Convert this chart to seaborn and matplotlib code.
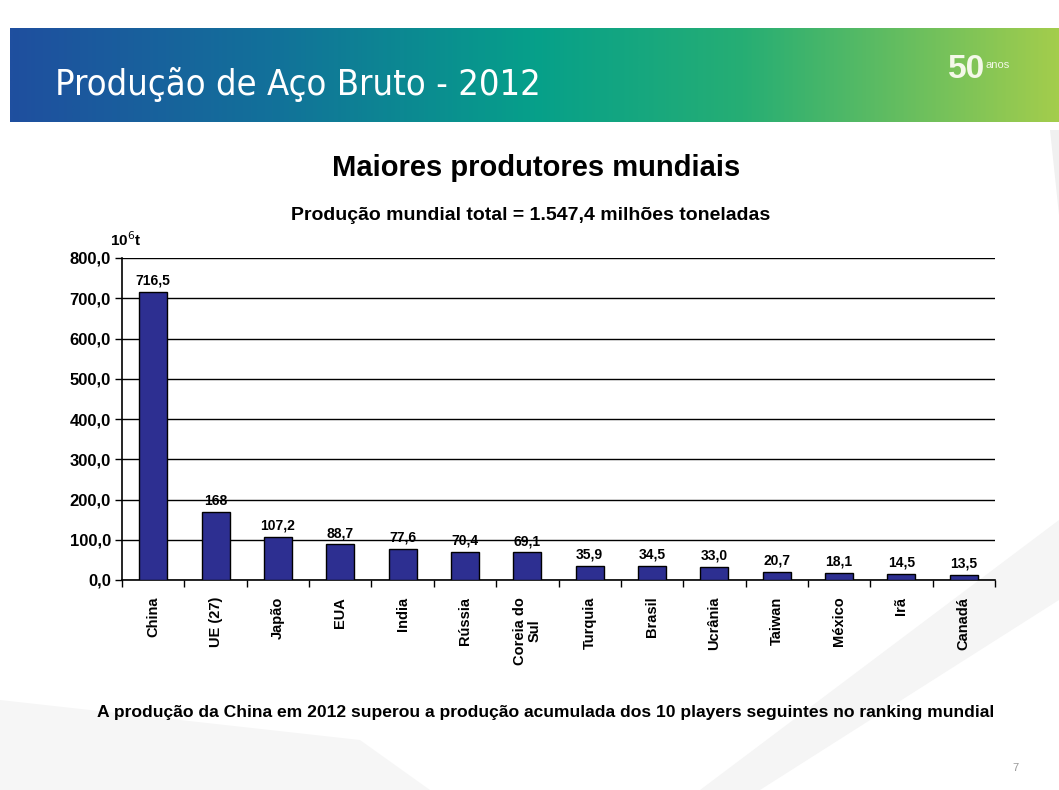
import numpy as np
import matplotlib
matplotlib.use("Agg")
import matplotlib.pyplot as plt
import seaborn as sns
from matplotlib.colors import LinearSegmentedColormap
from matplotlib.ticker import FixedLocator, FuncFormatter

countries = ["China", "UE (27)", "Japão", "EUA", "India", "Rússia", "Coreia do\nSul",
             "Turquia", "Brasil", "Ucrânia", "Taiwan", "México", "Irã", "Canadá"]
values = [716.5, 168, 107.2, 88.7, 77.6, 70.4, 69.1, 35.9, 34.5, 33.0, 20.7, 18.1, 14.5, 13.5]
value_labels = ["716,5", "168", "107,2", "88,7", "77,6", "70,4", "69,1",
                "35,9", "34,5", "33,0", "20,7", "18,1", "14,5", "13,5"]
yticks = [0, 100, 200, 300, 400, 500, 600, 700, 800]

sns.set_theme(style="white")
plt.rcParams['font.family'] = ['Liberation Sans', 'DejaVu Sans']
plt.rcParams['text.color'] = 'black'
plt.rcParams['xtick.color'] = 'black'
plt.rcParams['ytick.color'] = 'black'

W, H = 1059, 790
fig = plt.figure(figsize=(W / 100, H / 100), dpi=100)
fig.patch.set_facecolor("white")

# background swooshes
bg = fig.add_axes([0, 0, 1, 1], zorder=-10)
bg.set_xlim(0, W); bg.set_ylim(H, 0); bg.axis("off")
bg.fill([700, 1059, 1059, 760], [790, 520, 600, 790], color="#f5f5f5", lw=0)
bg.fill([1050, 1059, 1059, 1120], [130, 130, 790, 790], color="#f0f0f0", lw=0)
bg.fill([0, 0, 430, 360], [700, 790, 790, 740], color="#f6f6f6", lw=0)
bg.fill([1100, 1059, 1059], [0, 0, 130], color="#f0f0f0", lw=0)

# header banner with gradient
ban = fig.add_axes([10 / W, 1 - 122 / H, (W - 10) / W, 94 / H], zorder=-5)
cmap = LinearSegmentedColormap.from_list(
    "ban", [(0, "#1f4f9f"), (0.25, "#12719a"), (0.5, "#06a08a"),
            (0.7, "#26ae74"), (1.0, "#a3cd4c")])
grad = np.linspace(0, 1, 512).reshape(1, -1)
ban.imshow(grad, aspect="auto", cmap=cmap, extent=[0, 1, 0, 1])
ban.axis("off")
fig.text(55 / W, 1 - 84 / H, "Produção de Aço Bruto - 2012", color="white",
         fontsize=26, family=["DejaVu Sans"], fontstretch="condensed",
         va="center", ha="left")
fig.text(948 / W, 1 - 70 / H, "50", color="#f4f8e8", fontsize=24, weight="bold",
         va="center", ha="left")
fig.text(986 / W, 1 - 65 / H, "anos", color="#f4f8e8", fontsize=8,
         va="center", ha="left")

# main chart
ax = fig.add_axes([122 / W, 1 - 580 / H, 873 / W, 322 / H])
ax.set_facecolor("none")
sns.barplot(x=countries, y=values, color="#2d2f91", edgecolor="black",
            linewidth=1, width=0.45, saturation=1, ax=ax, zorder=3)
ax.set_ylim(0, 800)
ax.set_xlim(-0.5, len(countries) - 0.5)
ax.yaxis.set_major_locator(FixedLocator(yticks))
ax.yaxis.set_major_formatter(FuncFormatter(lambda v, p: f"{v:.1f}".replace(".", ",")))
ax.grid(axis="y", color="black", linewidth=1, zorder=0)
ax.grid(axis="x", visible=False)
for s in ["top", "right"]:
    ax.spines[s].set_visible(False)
for s in ["left", "bottom"]:
    ax.spines[s].set_color("black")
    ax.spines[s].set_linewidth(1.2)
ax.tick_params(axis="y", direction="out", length=5, width=1, color="black",
               labelsize=12, pad=3, left=True)
for lbl in ax.get_yticklabels():
    lbl.set_fontweight("bold")
ax.set_xticks(range(len(countries)))
ax.set_xticklabels(countries, rotation=90, fontsize=10.5, fontweight="bold",
                   linespacing=1.0)
ax.tick_params(axis="x", which="major", length=0, pad=12)
ax.set_xticks(np.arange(-0.5, len(countries), 1), minor=True)
ax.tick_params(axis="x", which="minor", direction="out", length=5, width=1,
               color="black", bottom=True)
ax.set_xlabel(""); ax.set_ylabel("")
for i, (v, t) in enumerate(zip(values, value_labels)):
    ax.annotate(t, (i, v), xytext=(0, 3), textcoords="offset points",
                ha="center", va="bottom", fontsize=10, fontweight="bold")

fig.text(110 / W, 1 - 240 / H, r"10$^6$t", fontsize=11, fontweight="bold",
         ha="left", va="center")

fig.text(536 / W, 1 - 168 / H, "Maiores produtores mundiais", fontsize=21,
         fontweight="bold", ha="center", va="center")
fig.text(531 / W, 1 - 216 / H, "Produção mundial total = 1.547,4 milhões toneladas",
         fontsize=14, fontweight="bold", ha="center", va="center")
fig.text(546 / W, 1 - 713 / H,
         "A produção da China em 2012 superou a produção acumulada dos 10 players seguintes no ranking mundial",
         fontsize=12.6, fontweight="bold", ha="center", va="center")
fig.text(1015 / W, 1 - 768 / H, "7", fontsize=8, color="#999999",
         ha="center", va="center")

fig.savefig("out.png", dpi=100)
